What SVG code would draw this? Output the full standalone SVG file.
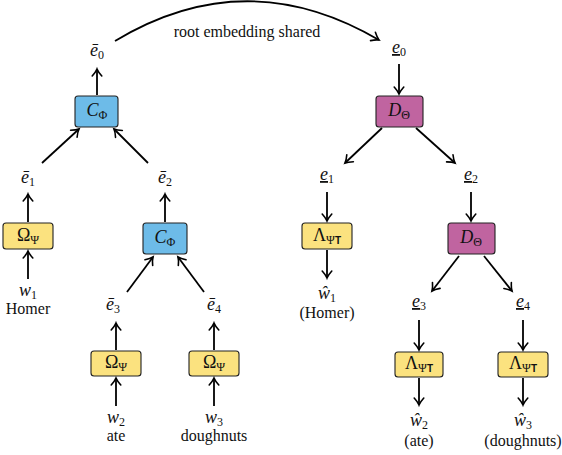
<svg xmlns="http://www.w3.org/2000/svg" width="562" height="455" viewBox="0 0 562 455" font-family="Liberation Serif, serif">
<style>
.bg{fill:#fff}
.box{stroke:#222;stroke-width:1.1}
.blue{fill:#6dbbe8}
.yel{fill:#fbe27f}
.mag{fill:#c064a0}
.m{font-size:18px;font-style:italic;text-anchor:middle;fill:#111}
.u{font-style:normal}
.sub{font-size:12px;font-style:normal}
.w{font-size:16px;text-anchor:middle;fill:#111}
.t{font-weight:bold;font-size:10px;font-style:normal}
.c{stroke:#000;stroke-width:1.8;fill:none}
</style>
<defs>
<marker id="ah" markerUnits="userSpaceOnUse" markerWidth="14" markerHeight="14" viewBox="-9 -7 11 14" refX="0" refY="0" orient="auto">
<path d="M-7,-4.8 Q-3,-1.2 0,0 Q-3,1.2 -7,4.8" stroke="#000" stroke-width="1.6" fill="none" stroke-linecap="round"/>
</marker>
</defs>
<rect class="bg" x="0" y="0" width="562" height="455"/>

<g id="connectors">
<path class="c" d="M115,41 Q246,-38 379,40" marker-end="url(#ah)"/>
<line class="c" x1="97" y1="95" x2="97" y2="69" marker-end="url(#ah)"/>
<line class="c" x1="42" y1="163" x2="79" y2="129" marker-end="url(#ah)"/>
<line class="c" x1="148" y1="163" x2="114" y2="129" marker-end="url(#ah)"/>
<line class="c" x1="28" y1="222" x2="28" y2="194" marker-end="url(#ah)"/>
<line class="c" x1="28" y1="279" x2="28" y2="251" marker-end="url(#ah)"/>
<line class="c" x1="165" y1="222" x2="165" y2="194" marker-end="url(#ah)"/>
<line class="c" x1="127" y1="292" x2="153" y2="257" marker-end="url(#ah)"/>
<line class="c" x1="204" y1="292" x2="178" y2="257" marker-end="url(#ah)"/>
<line class="c" x1="116" y1="350" x2="116" y2="323" marker-end="url(#ah)"/>
<line class="c" x1="116" y1="406" x2="116" y2="378" marker-end="url(#ah)"/>
<line class="c" x1="214" y1="350" x2="214" y2="323" marker-end="url(#ah)"/>
<line class="c" x1="214" y1="406" x2="214" y2="378" marker-end="url(#ah)"/>

<line class="c" x1="399" y1="64" x2="399" y2="94" marker-end="url(#ah)"/>
<line class="c" x1="382" y1="128" x2="345" y2="163" marker-end="url(#ah)"/>
<line class="c" x1="416" y1="128" x2="455" y2="163" marker-end="url(#ah)"/>
<line class="c" x1="327" y1="192" x2="327" y2="221" marker-end="url(#ah)"/>
<line class="c" x1="327" y1="250" x2="327" y2="278" marker-end="url(#ah)"/>
<line class="c" x1="471" y1="192" x2="471" y2="221" marker-end="url(#ah)"/>
<line class="c" x1="459" y1="256" x2="432" y2="291" marker-end="url(#ah)"/>
<line class="c" x1="484" y1="256" x2="512" y2="291" marker-end="url(#ah)"/>
<line class="c" x1="419" y1="320" x2="419" y2="350" marker-end="url(#ah)"/>
<line class="c" x1="419" y1="378" x2="419" y2="405" marker-end="url(#ah)"/>
<line class="c" x1="523" y1="320" x2="523" y2="350" marker-end="url(#ah)"/>
<line class="c" x1="523" y1="378" x2="523" y2="405" marker-end="url(#ah)"/>
<text class="w" x="247" y="37">root embedding shared</text>
</g>

<g id="enc-e0"><text class="m" x="97" y="56">ē<tspan class="sub" dy="2.5">0</tspan></text></g>
<g id="enc-C0"><rect class="box blue" x="75" y="96" width="43" height="31" rx="3"/><text class="m" x="97" y="116">C<tspan class="sub" dy="2.5">Φ</tspan></text></g>
<g id="enc-e1"><text class="m" x="28" y="183">ē<tspan class="sub" dy="2.5">1</tspan></text></g>
<g id="enc-O1"><rect class="box yel" x="3" y="223" width="50" height="26" rx="3"/><text class="m u" x="28" y="241">Ω<tspan class="sub" dy="2.5">Ψ</tspan></text></g>
<g id="enc-w1"><text class="m" x="28" y="296">w<tspan class="sub" dy="2.5">1</tspan></text><text class="w" x="28" y="314">Homer</text></g>
<g id="enc-e2"><text class="m" x="165" y="183">ē<tspan class="sub" dy="2.5">2</tspan></text></g>
<g id="enc-C2"><rect class="box blue" x="143" y="223" width="44" height="31" rx="3"/><text class="m" x="165" y="243">C<tspan class="sub" dy="2.5">Φ</tspan></text></g>
<g id="enc-e3"><text class="m" x="113" y="310">ē<tspan class="sub" dy="2.5">3</tspan></text></g>
<g id="enc-e4"><text class="m" x="214" y="310">ē<tspan class="sub" dy="2.5">4</tspan></text></g>
<g id="enc-O3"><rect class="box yel" x="91" y="351" width="50" height="25" rx="3"/><text class="m u" x="116" y="368">Ω<tspan class="sub" dy="2.5">Ψ</tspan></text></g>
<g id="enc-O4"><rect class="box yel" x="189" y="351" width="50" height="25" rx="3"/><text class="m u" x="214" y="368">Ω<tspan class="sub" dy="2.5">Ψ</tspan></text></g>
<g id="enc-w2"><text class="m" x="116" y="423">w<tspan class="sub" dy="2.5">2</tspan></text><text class="w" x="116" y="441">ate</text></g>
<g id="enc-w3"><text class="m" x="214" y="423">w<tspan class="sub" dy="2.5">3</tspan></text><text class="w" x="214" y="441">doughnuts</text></g>

<g id="dec-e0"><text class="m" x="399" y="53"><tspan text-decoration="underline">e</tspan><tspan class="sub" dy="2.5">0</tspan></text></g>
<g id="dec-D0"><rect class="box mag" x="376" y="96" width="47" height="31" rx="3"/><text class="m" x="399" y="116">D<tspan class="sub" dy="2.5">Θ</tspan></text></g>
<g id="dec-e1"><text class="m" x="327" y="180"><tspan text-decoration="underline">e</tspan><tspan class="sub" dy="2.5">1</tspan></text></g>
<g id="dec-e2"><text class="m" x="471" y="180"><tspan text-decoration="underline">e</tspan><tspan class="sub" dy="2.5">2</tspan></text></g>
<g id="dec-L1"><rect class="box yel" x="302" y="223" width="50" height="26" rx="3"/><text class="m u" x="327" y="241">Λ<tspan class="sub" dy="2.5">Ψ</tspan><tspan class="t" font-family="Liberation Sans, sans-serif">T</tspan></text></g>
<g id="dec-w1"><text class="m" x="327" y="299">ŵ<tspan class="sub" dy="2.5">1</tspan></text><text class="w" x="327" y="318">(Homer)</text></g>
<g id="dec-D2"><rect class="box mag" x="448" y="223" width="47" height="31" rx="3"/><text class="m" x="471" y="243">D<tspan class="sub" dy="2.5">Θ</tspan></text></g>
<g id="dec-e3"><text class="m" x="419" y="307"><tspan text-decoration="underline">e</tspan><tspan class="sub" dy="2.5">3</tspan></text></g>
<g id="dec-e4"><text class="m" x="523" y="307"><tspan text-decoration="underline">e</tspan><tspan class="sub" dy="2.5">4</tspan></text></g>
<g id="dec-L3"><rect class="box yel" x="395" y="352" width="48" height="25" rx="3"/><text class="m u" x="419" y="369">Λ<tspan class="sub" dy="2.5">Ψ</tspan><tspan class="t" font-family="Liberation Sans, sans-serif">T</tspan></text></g>
<g id="dec-L4"><rect class="box yel" x="498" y="352" width="50" height="25" rx="3"/><text class="m u" x="523" y="369">Λ<tspan class="sub" dy="2.5">Ψ</tspan><tspan class="t" font-family="Liberation Sans, sans-serif">T</tspan></text></g>
<g id="dec-w2"><text class="m" x="419" y="426">ŵ<tspan class="sub" dy="2.5">2</tspan></text><text class="w" x="419" y="446">(ate)</text></g>
<g id="dec-w3"><text class="m" x="523" y="426">ŵ<tspan class="sub" dy="2.5">3</tspan></text><text class="w" x="523" y="446">(doughnuts)</text></g>
</svg>
